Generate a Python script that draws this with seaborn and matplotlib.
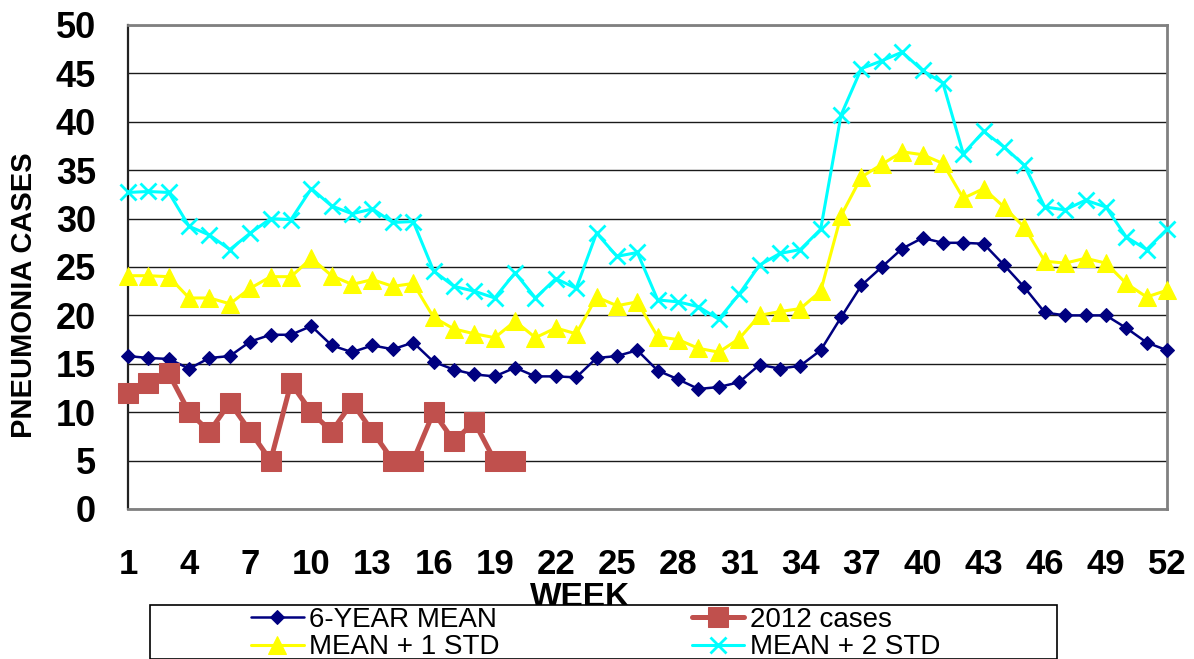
import numpy as np
import pandas as pd
import matplotlib
matplotlib.use("Agg")
import matplotlib.pyplot as plt
from matplotlib.patches import Rectangle
import seaborn as sns

# ---- data ----
weeks = list(range(1, 53))
mean_6yr = [15.8, 15.6, 15.5, 14.5, 15.6, 15.8, 17.3, 18.0, 18.0, 18.9,
            16.9, 16.2, 16.9, 16.5, 17.2, 15.2, 14.4, 13.9, 13.7, 14.6,
            13.7, 13.7, 13.6, 15.6, 15.8, 16.4, 14.3, 13.4, 12.4, 12.6,
            13.1, 14.9, 14.5, 14.8, 16.4, 19.8, 23.1, 25.0, 26.9, 28.0,
            27.5, 27.5, 27.4, 25.2, 22.9, 20.3, 20.0, 20.0, 20.0, 18.7,
            17.2, 16.4]
mean_plus1 = [24.1, 24.1, 24.0, 21.8, 21.8, 21.2, 22.8, 24.0, 24.0, 25.9,
              24.1, 23.2, 23.7, 23.0, 23.3, 19.8, 18.6, 18.1, 17.7, 19.4,
              17.7, 18.7, 18.1, 21.9, 21.0, 21.4, 17.8, 17.5, 16.6, 16.2,
              17.6, 20.0, 20.4, 20.7, 22.5, 30.3, 34.3, 35.6, 36.9, 36.6,
              35.7, 32.1, 33.1, 31.2, 29.1, 25.6, 25.4, 25.9, 25.4, 23.3,
              21.9, 22.6]
mean_plus2 = [32.7, 32.8, 32.7, 29.2, 28.3, 26.8, 28.5, 30.0, 29.9, 33.1,
              31.3, 30.5, 31.0, 29.6, 29.7, 24.6, 23.0, 22.5, 21.8, 24.4,
              21.8, 23.8, 22.8, 28.5, 26.1, 26.5, 21.6, 21.4, 20.9, 19.6,
              22.2, 25.2, 26.4, 26.8, 28.9, 40.7, 45.5, 46.3, 47.2, 45.3,
              44.0, 36.7, 39.0, 37.4, 35.5, 31.2, 30.9, 31.9, 31.2, 28.1,
              26.8, 28.9]
weeks_2012 = list(range(1, 21))
cases_2012 = [12, 13, 14, 10, 8, 11, 8, 5, 13, 10, 8, 11, 8, 5, 5, 10, 7, 9, 5, 5]

x_ticks = list(range(1, 53, 3))
y_ticks = list(range(0, 51, 5))

labels = ["6-YEAR MEAN", "2012 cases", "MEAN + 1 STD", "MEAN + 2 STD"]

sns.set_style("white")
plt.rcParams["font.family"] = ["Liberation Sans", "DejaVu Sans"]
plt.rcParams["text.color"] = "black"
plt.rcParams["axes.labelcolor"] = "black"
plt.rcParams["xtick.color"] = "black"
plt.rcParams["ytick.color"] = "black"

W, H = 1194, 659
fig = plt.figure(figsize=(W / 100, H / 100), dpi=100)
L, R, T, B = 128, 1167, 25, 509
ax = fig.add_axes([L / W, 1 - B / H, (R - L) / W, (B - T) / H])

df_mean = pd.DataFrame({"week": weeks, "v": mean_6yr})
df_p1 = pd.DataFrame({"week": weeks, "v": mean_plus1})
df_p2 = pd.DataFrame({"week": weeks, "v": mean_plus2})
df_12 = pd.DataFrame({"week": weeks_2012, "v": cases_2012})

sns.lineplot(data=df_mean, x="week", y="v", ax=ax, color="#000080", linewidth=1.8,
             marker="D", markersize=7.5, markeredgecolor="#000080", label=labels[0],
             clip_on=False, zorder=3)
sns.lineplot(data=df_12, x="week", y="v", ax=ax, color="#C0504D", linewidth=3.6,
             marker="s", markersize=14.5, markeredgecolor="#C0504D", label=labels[1],
             clip_on=False, zorder=4)
sns.lineplot(data=df_p1, x="week", y="v", ax=ax, color="#FFFF00", linewidth=2.2,
             marker="^", markersize=13, markeredgecolor="#FFFF00", label=labels[2],
             clip_on=False, zorder=5)
sns.lineplot(data=df_p2, x="week", y="v", ax=ax, color="#00FFFF", linewidth=2.2,
             marker="x", markersize=12, markeredgewidth=2, markeredgecolor="#00FFFF",
             label=labels[3], clip_on=False, zorder=6)

ax.set_xlim(1, 52)
ax.set_ylim(0, 50)
ax.set_xticks(x_ticks)
ax.set_xticklabels([str(t) for t in x_ticks])
ax.set_yticks(y_ticks)
ax.set_yticklabels([str(t) for t in y_ticks])

ax.yaxis.grid(True, color="#1a1a1a", linewidth=1.0)
ax.xaxis.grid(False)
ax.set_axisbelow(True)

for s in ["top", "right", "bottom"]:
    ax.spines[s].set_color("#808080")
    ax.spines[s].set_linewidth(2)
ax.spines["left"].set_color("#222222")
ax.spines["left"].set_linewidth(1.6)

ax.tick_params(axis="x", direction="out", length=7, width=1, color="#555555",
               labelcolor="black", pad=21, labelsize=25)
ax.tick_params(axis="y", direction="out", length=8, width=1, color="#555555",
               labelcolor="black", pad=15, labelsize=26)
for lab in ax.get_xticklabels() + ax.get_yticklabels():
    lab.set_fontweight("bold")

ax.set_xlabel("WEEK", fontsize=24, fontweight="bold", va="top", color="black")
ax.xaxis.set_label_coords((580 - L) / (R - L), (B - 582) / (B - T))
ax.set_ylabel("PNEUMONIA CASES", fontsize=21, fontweight="bold", va="center",
              ha="center", color="black")
ax.yaxis.set_label_coords((24 - L) / (R - L), (B - 295) / (B - T))

handles, hl = ax.get_legend_handles_labels()
ax.get_legend().remove()
hmap = dict(zip(hl, handles))
order = [labels[0], labels[2], labels[1], labels[3]]

# legend frame
fig.add_artist(Rectangle((150 / W, 0), (1057 - 150) / W, 1 - 605 / H,
                         transform=fig.transFigure, facecolor="white",
                         edgecolor="black", linewidth=1.2, zorder=2))
leg = fig.legend([hmap[k] for k in order], order, ncol=2, loc="upper left",
                 bbox_to_anchor=(251 / W, 1 - 607 / H), frameon=False,
                 fontsize=20, borderpad=0, handlelength=1.9, handletextpad=0.2,
                 columnspacing=6.9, labelspacing=0.05, borderaxespad=0)
leg.set_zorder(3)
for t in leg.get_texts():
    t.set_color("black")

fig.savefig("out.png", dpi=100, facecolor="white")
